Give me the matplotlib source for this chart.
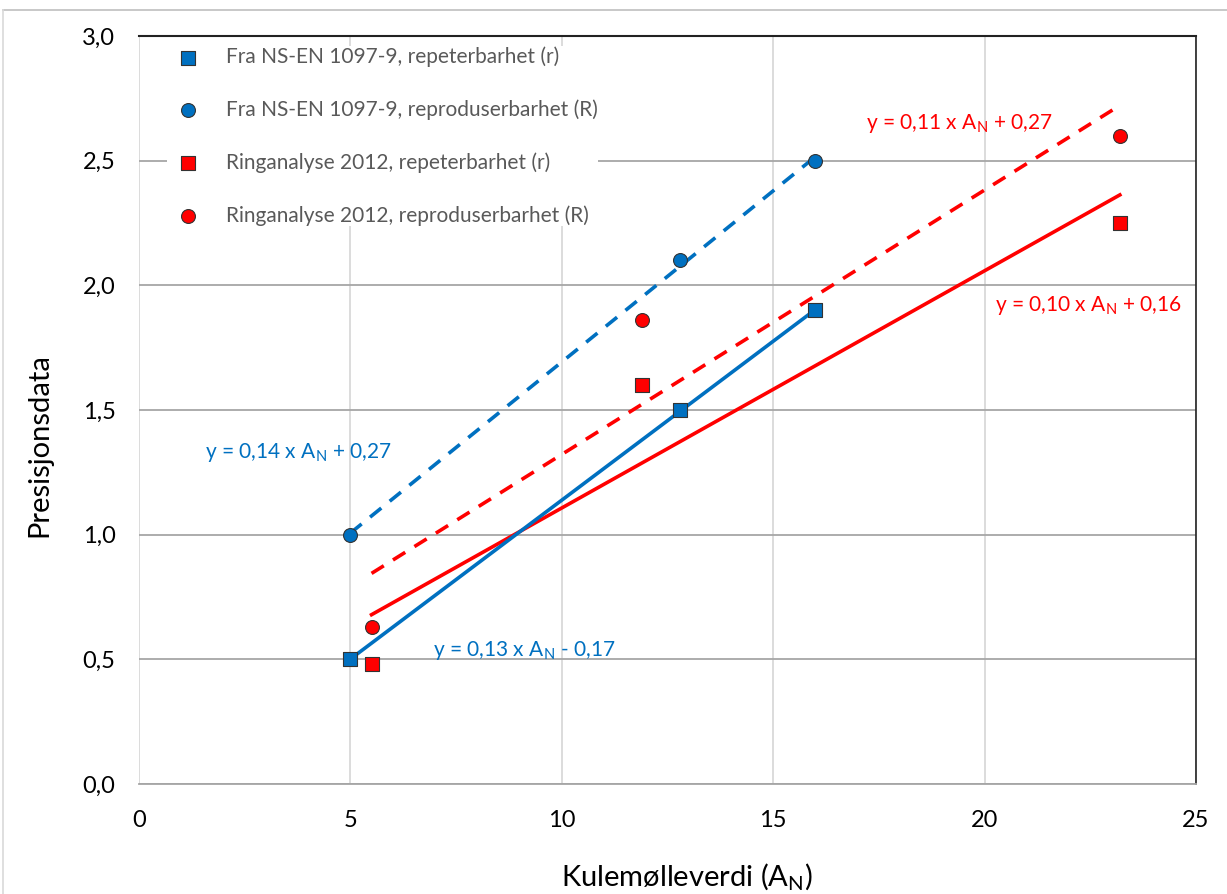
import numpy as np
import matplotlib
matplotlib.use("Agg")
import matplotlib.pyplot as plt
from matplotlib.lines import Line2D
from matplotlib.ticker import FuncFormatter

plt.rcParams['font.family'] = ['Lato', 'DejaVu Sans']

# data
ns_x = [5.0, 12.8, 16.0]
ns_r = [0.5, 1.5, 1.9]
ns_R = [1.0, 2.1, 2.5]

ring_x = [5.5, 11.9, 23.2]
ring_r = [0.48, 1.6, 2.25]
ring_R = [0.63, 1.86, 2.6]

labels = ['Fra NS-EN 1097-9, repeterbarhet (r)',
          'Fra NS-EN 1097-9, reproduserbarhet (R)',
          'Ringanalyse 2012, repeterbarhet (r)',
          'Ringanalyse 2012, reproduserbarhet (R)']

eq_texts = [r'y = 0,14 x A$_\mathregular{N}$ + 0,27',
            r'y = 0,13 x A$_\mathregular{N}$ - 0,17',
            r'y = 0,11 x A$_\mathregular{N}$ + 0,27',
            r'y = 0,10 x A$_\mathregular{N}$ + 0,16']

blue = '#0070C0'
red = '#FF0000'

fig = plt.figure(figsize=(12.27, 8.94), dpi=100)
ax = fig.add_axes([0.1133, 0.123, 0.8614, 0.8367])

# trend lines fitted from the points
def trend(x, y, color, ls):
    k, m = np.polyfit(x, y, 1)
    xs = np.array([min(x), max(x)])
    ax.plot(xs, k * xs + m, color=color, lw=2.6, ls=ls, zorder=3,
            dashes=(4, 3) if ls == '--' else (None, None))

trend(ns_x, ns_R, blue, '--')
trend(ring_x, ring_R, red, '--')
trend(ring_x, ring_r, red, '-')
trend(ns_x, ns_r, blue, '-')

ms = 10
h1 = ax.scatter(ns_x, ns_r, marker='s', s=ms**2, color=blue, edgecolor='#333333', lw=0.8, zorder=5)
h2 = ax.scatter(ns_x, ns_R, marker='o', s=ms**2, color=blue, edgecolor='#333333', lw=0.8, zorder=5)
h3 = ax.scatter(ring_x, ring_r, marker='s', s=ms**2, color=red, edgecolor='#333333', lw=0.8, zorder=5)
h4 = ax.scatter(ring_x, ring_R, marker='o', s=ms**2, color=red, edgecolor='#333333', lw=0.8, zorder=5)

fs_eq = 15
ax.text(1.55, 1.33, eq_texts[0], color=blue, fontsize=fs_eq, va='center')
ax.text(6.95, 0.535, eq_texts[1], color=blue, fontsize=fs_eq, va='center')
ax.text(17.2, 2.65, eq_texts[2], color=red, fontsize=fs_eq, va='center')
ax.text(20.25, 1.92, eq_texts[3], color=red, fontsize=fs_eq, va='center')

ax.set_xlim(0, 25)
ax.set_ylim(0, 3.0)
ax.set_xticks(np.arange(0, 26, 5))
ax.set_yticks(np.arange(0, 3.01, 0.5))
ax.yaxis.set_major_formatter(FuncFormatter(lambda v, p: f'{v:.1f}'.replace('.', ',')))
ax.tick_params(length=0, labelsize=17)
ax.tick_params(axis='y', pad=17)
ax.tick_params(axis='x', pad=19)

ax.grid(axis='y', color='#a6a6a6', lw=1.3, zorder=0)
ax.grid(axis='x', color='#d9d9d9', lw=1.3, zorder=0)
ax.set_axisbelow(True)

ax.spines['left'].set_visible(False)
ax.spines['top'].set_color('#222222')
ax.spines['top'].set_linewidth(1.5)
ax.spines['right'].set_color('#222222')
ax.spines['right'].set_linewidth(1.2)
ax.spines['bottom'].set_color('#a6a6a6')
ax.spines['bottom'].set_linewidth(1.3)

ax.set_xlabel(r'Kulemølleverdi (A$_\mathregular{N}$)', fontsize=21)
ax.set_ylabel('Presisjonsdata', fontsize=21)
ax.xaxis.set_label_coords(0.518, -0.104)
ax.yaxis.set_label_coords(-0.082, 0.453)

leg = ax.legend([h1, h2, h3, h4], labels, loc='upper left', bbox_to_anchor=(0.017, 1.0),
                fontsize=15, frameon=True, framealpha=1, edgecolor='none',
                labelspacing=1.55, handletextpad=0.8, borderpad=0.0, scatterpoints=1)
for t in leg.get_texts():
    t.set_color('#595959')

# outer chart frame
fig.add_artist(Line2D([3 / 1227, 1], [1 - 10 / 894, 1 - 10 / 894], color='#bfbfbf', lw=1.2))
fig.add_artist(Line2D([3 / 1227, 3 / 1227], [0, 1 - 10 / 894], color='#d9d9d9', lw=1.2))

fig.savefig('out.png', dpi=100)
